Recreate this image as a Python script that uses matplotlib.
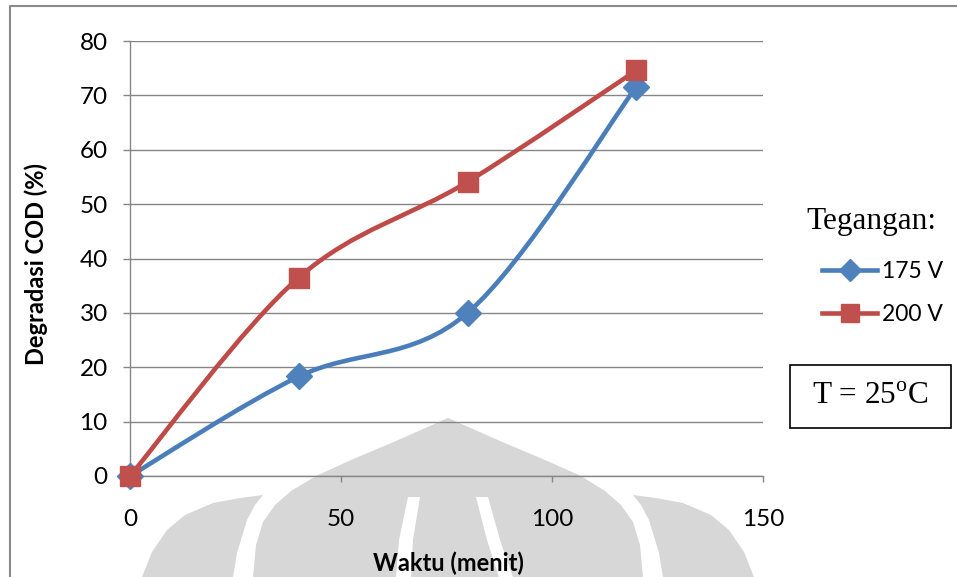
import numpy as np
import matplotlib
matplotlib.use("Agg")
import matplotlib.pyplot as plt
import matplotlib.transforms as mtransforms
from matplotlib.path import Path
from matplotlib.patches import PathPatch, Polygon, Rectangle
from matplotlib.lines import Line2D

# ---- data -------------------------------------------------------------
waktu = [0, 40, 80, 120]              # menit
cod_175 = [0, 18.3, 30.0, 71.6]       # % degradasi, 175 V
cod_200 = [0, 36.5, 54.1, 74.6]       # % degradasi, 200 V
series_labels = ["175 V", "200 V"]
x_ticks = [0, 50, 100, 150]
y_ticks = [0, 10, 20, 30, 40, 50, 60, 70, 80]

W, H = 957, 577
plt.rcParams["mathtext.fontset"] = "custom"
plt.rcParams["mathtext.rm"] = "Liberation Serif"

fig = plt.figure(figsize=(W / 100, H / 100), dpi=100, facecolor="white")

# pixel (top-left origin) -> figure transform
px = mtransforms.Affine2D().scale(1 / W, -1 / H).translate(0, 1) + fig.transFigure

# ---- faint background emblem ---------------------------------------------
wm = "#d7d7d7"
body = [(448, 418), (500, 441), (545, 460), (581, 476), (605, 491), (621, 505),
        (633, 522), (640, 545), (643, 577), (253, 577), (256, 545), (263, 522),
        (275, 505), (291, 491), (316, 476), (351, 460), (396, 441)]
left_petal = [(263, 495), (240, 498), (213, 503), (185, 515), (167, 530),
              (152, 552), (142, 577), (233, 577), (237, 553), (247, 520), (255, 505)]
right_petal = [(896 - x, y) for x, y in left_petal]
slit_l = [(408, 497), (420, 497), (413, 540), (411, 577), (396, 577), (399, 540)]
slit_r = [(476, 497), (488, 497), (500, 540), (513, 577), (499, 577), (487, 540)]
for pts in (body, left_petal, right_petal):
    fig.patches.append(Polygon(pts, closed=True, transform=px, facecolor=wm,
                               edgecolor="none", zorder=0))
for pts in (slit_l, slit_r):
    fig.patches.append(Polygon(pts, closed=True, transform=px, facecolor="white",
                               edgecolor="none", zorder=0.5))

# outer frame (top and left edges)
fig.lines.append(Line2D([9.5, 9.5, W], [H, 5.5, 5.5], transform=px,
                        color="#8a8a8a", lw=1.5, zorder=1))

# ---- axes ----------------------------------------------------------------
ax = fig.add_axes([130 / W, (H - 476) / H, 633 / W, 435 / H])
ax.set_zorder(2)
ax.set_facecolor("none")
ax.set_xlim(0, 150)
ax.set_ylim(0, 80)
ax.set_xticks(x_ticks)
ax.set_yticks(y_ticks)
grid_c = "#868686"
ax.yaxis.grid(True, color=grid_c, lw=1.0)
ax.set_axisbelow(True)
for s in ("top", "right"):
    ax.spines[s].set_visible(False)
for s in ("left", "bottom"):
    ax.spines[s].set_color(grid_c)
    ax.spines[s].set_linewidth(1.0)

ax.tick_params(axis="y", direction="out", length=5, width=1.0, color=grid_c,
               pad=11, labelsize=17.5)
ax.tick_params(axis="x", direction="out", length=4.5, width=1.0, color=grid_c,
               pad=19, labelsize=17.5)
for lab in ax.get_xticklabels() + ax.get_yticklabels():
    lab.set_fontfamily("Lato")

ax.set_xlabel("Waktu (menit)", family="Lato", fontweight="bold", fontsize=17,
              va="center")
ax.xaxis.set_label_coords((448 - 130) / 633, (476 - 563) / 435)
ax.set_ylabel("Degradasi COD (%)", family="Lato", fontweight="bold", fontsize=17,
              va="center")
ax.yaxis.set_label_coords((36 - 130) / 633, (476 - 264) / 435)


def smooth_path(xs, ys):
    """Cubic Bezier path through the points (Catmull-Rom tangents)."""
    p = np.column_stack([xs, ys]).astype(float)
    n = len(p)
    verts = [p[0]]
    codes = [Path.MOVETO]
    for i in range(n - 1):
        p0 = p[max(i - 1, 0)]
        p1 = p[i]
        p2 = p[i + 1]
        p3 = p[min(i + 2, n - 1)]
        verts += [p1 + (p2 - p0) / 6, p2 - (p3 - p1) / 6, p2]
        codes += [Path.CURVE4] * 3
    return Path(verts, codes)


styles = [
    dict(line="#4A7EBB", face="#4F81BD", marker="D", ms=13),
    dict(line="#BE4B48", face="#C0504D", marker="s", ms=14.5),
]
handles = []
for k, (ys, st) in enumerate(zip([cod_175, cod_200], styles)):
    z = 3 + 2 * k
    ax.add_patch(PathPatch(smooth_path(waktu, ys), facecolor="none",
                           edgecolor=st["line"], lw=3.3, capstyle="round",
                           joinstyle="round", zorder=z, clip_on=False))
    ax.plot(waktu, ys, ls="none", marker=st["marker"], ms=st["ms"],
            mfc=st["face"], mec=st["face"], zorder=z + 1, clip_on=False)
    handles.append(Line2D([], [], color=st["line"], lw=3.3, marker=st["marker"],
                          ms=st["ms"] * 0.85, mfc=st["face"], mec=st["face"]))

# ---- legend ----------------------------------------------------------------
fig.text(871 / W, 1 - 222 / H, "Tegangan:", family="Liberation Serif",
         fontsize=22.5, ha="center", va="center", zorder=3)
leg = fig.legend(handles, series_labels, loc="center left",
                 bbox_to_anchor=(822 / W, 1 - 293 / H), frameon=False,
                 prop=dict(family="Lato", size=16.5), handlelength=2.4,
                 handletextpad=0.2, labelspacing=1.0, borderpad=0,
                 borderaxespad=0)
leg.set_zorder(3)

# temperature box
fig.patches.append(Rectangle((790, 428), 161, -63, transform=px, fill=False,
                             edgecolor="black", lw=1.2, zorder=3))
fig.text(870 / W, 1 - 397 / H, r"T = 25$^{\mathrm{o}}$C", family="Liberation Serif",
         fontsize=22.5, ha="center", va="center", zorder=3)

fig.savefig("out.png", dpi=100, facecolor="white")
